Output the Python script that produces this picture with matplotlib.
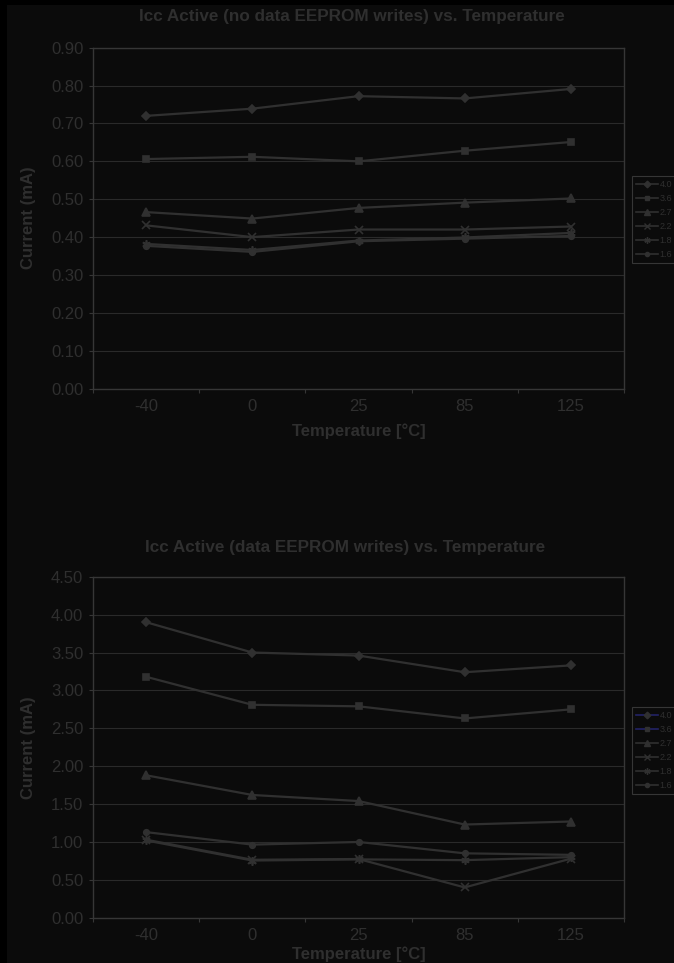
import matplotlib
matplotlib.use("Agg")
import matplotlib.pyplot as plt
from matplotlib.lines import Line2D
from matplotlib.patches import Rectangle

# data
temps = ["-40", "0", "25", "85", "125"]
volts = ["4.0", "3.6", "2.7", "2.2", "1.8", "1.6"]

# Icc active, no data EEPROM writes (mA)
idle_40 = [0.720, 0.739, 0.772, 0.766, 0.791]
idle_36 = [0.606, 0.612, 0.600, 0.628, 0.651]
idle_27 = [0.466, 0.449, 0.477, 0.491, 0.502]
idle_22 = [0.431, 0.400, 0.420, 0.420, 0.428]
idle_18 = [0.382, 0.366, 0.391, 0.399, 0.411]
idle_16 = [0.377, 0.361, 0.389, 0.396, 0.403]

# Icc active, data EEPROM writes (mA)
wr_40 = [3.90, 3.50, 3.46, 3.24, 3.33]
wr_36 = [3.18, 2.81, 2.79, 2.63, 2.75]
wr_27 = [1.88, 1.62, 1.54, 1.23, 1.27]
wr_22 = [1.03, 0.765, 0.775, 0.40, 0.78]
wr_18 = [1.02, 0.755, 0.77, 0.76, 0.80]
wr_16 = [1.13, 0.965, 1.00, 0.85, 0.83]

BG = "#0b0b0b"
FG = "#2f2f2f"
GRID = "#2a2a2a"
FRAME = "#363636"
LINE = "#303030"
BLUE = "#222266"

markers = ["D", "s", "^", "x", (6, 2, 0), "o"]
msizes = [4.5, 4.5, 5.5, 5.5, 6, 4]

plt.rcParams["font.family"] = ["Liberation Sans", "Arimo", "DejaVu Sans"]

fig = plt.figure(figsize=(6.74, 9.63), dpi=100, facecolor=BG)
fig.patches.append(Rectangle((0, 0), 7 / 674, 1, transform=fig.transFigure,
                             facecolor="black", edgecolor="none", zorder=-5))
fig.patches.append(Rectangle((0, 1 - 5 / 963), 1, 5 / 963, transform=fig.transFigure,
                             facecolor="black", edgecolor="none", zorder=-5))


def make_chart(rect, series, ymax, ystep, title, title_x, title_y, leg_top, xlab_y, blue_leg):
    ax = fig.add_axes(rect, facecolor=BG)
    x = list(range(len(temps)))
    for vals, m, ms in zip(series, markers, msizes):
        ax.plot(x, vals, color=LINE, lw=1.6, marker=m, ms=ms,
                mfc=LINE, mec=LINE, mew=1.2)
    ax.set_xlim(-0.5, len(temps) - 0.5)
    ax.set_ylim(0, ymax)
    yt = [i * ystep for i in range(int(round(ymax / ystep)) + 1)]
    ax.set_yticks(yt)
    ax.set_yticklabels([f"{v:.2f}" for v in yt])
    ax.set_xticks(x)
    ax.set_xticklabels(temps)
    ax.set_xticks([i - 0.5 for i in range(len(temps) + 1)], minor=True)
    ax.tick_params(axis="x", which="major", length=0, pad=7.5, labelsize=12, colors=FG)
    ax.tick_params(axis="x", which="minor", length=3, width=0.8, color=FRAME, direction="out")
    ax.tick_params(axis="y", length=3, width=0.8, pad=4, labelsize=12, colors=FG)
    ax.tick_params(axis="y", color=FRAME)
    ax.grid(axis="y", color=GRID, lw=0.8)
    ax.set_axisbelow(True)
    for s in ax.spines.values():
        s.set_color(FRAME)
        s.set_linewidth(1.0)

    ax.set_xlabel("Temperature [°C]", fontsize=12, fontweight="bold", color=FG)
    ax.xaxis.set_label_coords(0.5, xlab_y)
    ax.set_ylabel("Current (mA)", fontsize=12, fontweight="bold", color=FG)
    ax.yaxis.set_label_coords(-0.1224, 0.5)
    ax.yaxis.label.set_va("center")

    fig.text(title_x / 674, 1 - title_y / 963, title, ha="center", va="center",
             fontsize=12.3, fontweight="bold", color=FG)

    handles = []
    for i, (lab, m, ms) in enumerate(zip(volts, markers, msizes)):
        c = BLUE if (blue_leg and i < 2) else LINE
        handles.append(Line2D([], [], color=c, lw=1.2, marker=m, ms=ms * 0.75,
                              mfc=LINE, mec=LINE, label=lab))
    leg = ax.legend(handles=handles, loc="upper left",
                    bbox_to_anchor=(632 / 674, 1 - leg_top / 963),
                    bbox_transform=fig.transFigure, borderaxespad=0,
                    fontsize=6.5, handlelength=2.4, handletextpad=0.2,
                    labelspacing=0.55, borderpad=0.45, fancybox=False,
                    framealpha=1, facecolor=BG, edgecolor=FRAME,
                    labelcolor=FG)
    leg.get_frame().set_linewidth(0.8)
    return ax


make_chart([93 / 674, 0.5964, 531 / 674, 0.3541],
           [idle_40, idle_36, idle_27, idle_22, idle_18, idle_16],
           0.90, 0.10,
           "Icc Active (no data EEPROM writes) vs. Temperature",
           352, 17, 176, -0.1015, False)

make_chart([93 / 674, 0.0470, 531 / 674, 0.3541],
           [wr_40, wr_36, wr_27, wr_22, wr_18, wr_16],
           4.50, 0.50,
           "Icc Active (data EEPROM writes) vs. Temperature",
           345, 547, 707, -0.083, True)

fig.savefig("out.png", dpi=100, facecolor=BG)
